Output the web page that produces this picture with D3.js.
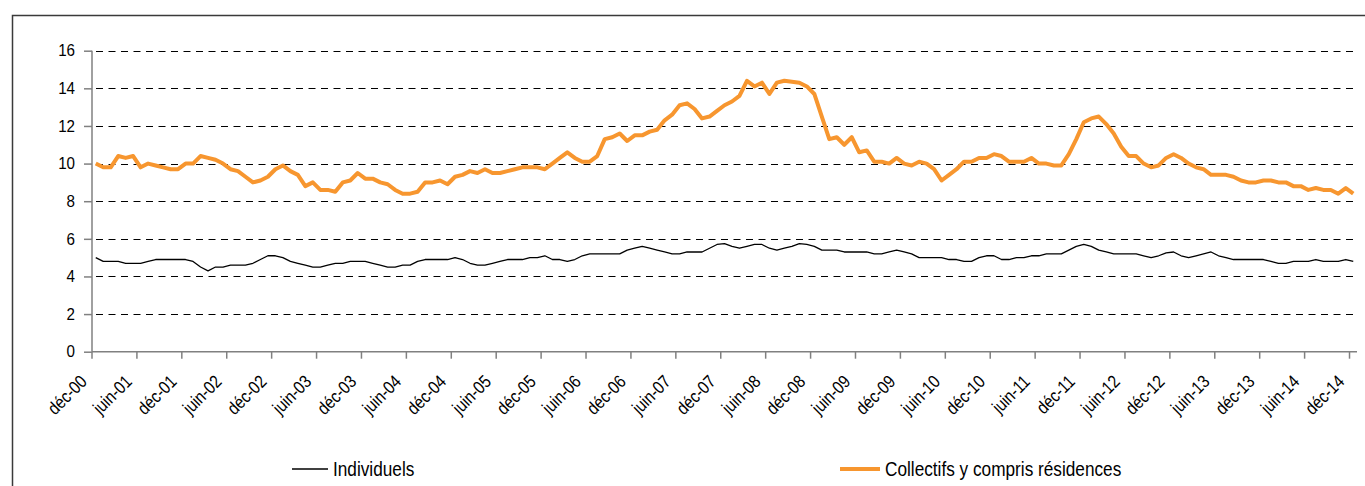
<!DOCTYPE html>
<html><head><meta charset="utf-8">
<script src="https://cdn.jsdelivr.net/npm/d3@7"></script>
<style>
html,body{margin:0;padding:0;background:#fff;}
svg{display:block;}
text{font-family:"Liberation Sans",Arial,sans-serif;fill:#000;}
</style></head>
<body>
<svg id="c" width="1365" height="486"></svg>
<script>
// ---- data ----
const monthNames = ["janv","févr","mars","avr","mai","juin","juil","août","sept","oct","nov","déc"];
const categories = [];
for (let k = 0; k < 169; k++) {
  const m = (11 + k) % 12;
  const yr = 2000 + Math.floor((11 + k) / 12);
  categories.push(monthNames[m] + "-" + String(yr % 100).padStart(2, "0"));
}
const tickLabels = ["déc-00","juin-01","déc-01","juin-02","déc-02","juin-03","déc-03","juin-04","déc-04","juin-05","déc-05","juin-06","déc-06","juin-07","déc-07","juin-08","déc-08","juin-09","déc-09","juin-10","déc-10","juin-11","déc-11","juin-12","déc-12","juin-13","déc-13","juin-14","déc-14"];
const yTicks = [0,2,4,6,8,10,12,14,16];
const seriesNames = ["Individuels","Collectifs y compris résidences"];
const individuels = [
5.0,4.8,4.8,4.8,4.7,4.7,4.7,4.8,4.9,4.9,4.9,4.9,4.9,4.8,4.5,4.3,4.5,4.5,4.6,4.6,
4.6,4.7,4.9,5.1,5.1,5.0,4.8,4.7,4.6,4.5,4.5,4.6,4.7,4.7,4.8,4.8,4.8,4.7,4.6,4.5,
4.5,4.6,4.6,4.8,4.9,4.9,4.9,4.9,5.0,4.9,4.7,4.6,4.6,4.7,4.8,4.9,4.9,4.9,5.0,5.0,
5.1,4.9,4.9,4.8,4.9,5.1,5.2,5.2,5.2,5.2,5.2,5.4,5.5,5.6,5.5,5.4,5.3,5.2,5.2,5.3,
5.3,5.3,5.5,5.7,5.75,5.6,5.5,5.6,5.7,5.7,5.5,5.4,5.5,5.6,5.75,5.7,5.6,5.4,5.4,5.4,
5.3,5.3,5.3,5.3,5.2,5.2,5.3,5.4,5.3,5.2,5.0,5.0,5.0,5.0,4.9,4.9,4.8,4.8,5.0,5.1,
5.1,4.9,4.9,5.0,5.0,5.1,5.1,5.2,5.2,5.2,5.4,5.6,5.7,5.6,5.4,5.3,5.2,5.2,5.2,5.2,
5.1,5.0,5.1,5.25,5.3,5.1,5.0,5.1,5.2,5.3,5.1,5.0,4.9,4.9,4.9,4.9,4.9,4.8,4.7,4.7,
4.8,4.8,4.8,4.9,4.8,4.8,4.8,4.9,4.8];
const collectifs = [
10.0,9.8,9.8,10.4,10.3,10.4,9.8,10.0,9.9,9.8,9.7,9.7,10.0,10.0,10.4,10.3,10.2,10.0,9.7,9.6,
9.3,9.0,9.1,9.3,9.7,9.9,9.6,9.4,8.8,9.0,8.6,8.6,8.5,9.0,9.1,9.5,9.2,9.2,9.0,8.9,
8.6,8.4,8.4,8.5,9.0,9.0,9.1,8.9,9.3,9.4,9.6,9.5,9.7,9.5,9.5,9.6,9.7,9.8,9.8,9.8,
9.7,10.0,10.3,10.6,10.3,10.1,10.1,10.4,11.3,11.4,11.6,11.2,11.5,11.5,11.7,11.8,12.3,12.6,13.1,13.2,
12.9,12.4,12.5,12.8,13.1,13.3,13.6,14.4,14.1,14.3,13.7,14.3,14.4,14.35,14.3,14.1,13.7,12.5,11.3,11.4,
11.0,11.4,10.6,10.7,10.1,10.1,10.0,10.3,10.0,9.9,10.1,10.0,9.7,9.1,9.4,9.7,10.1,10.1,10.3,10.3,
10.5,10.4,10.1,10.1,10.1,10.3,10.0,10.0,9.9,9.9,10.5,11.3,12.2,12.4,12.5,12.1,11.6,10.9,10.4,10.4,
10.0,9.8,9.9,10.3,10.5,10.3,10.0,9.8,9.7,9.4,9.4,9.4,9.3,9.1,9.0,9.0,9.1,9.1,9.0,9.0,
8.8,8.8,8.6,8.7,8.6,8.6,8.4,8.7,8.4];

// ---- layout ----
const svg = d3.select("#c");
const plotL = 92, plotR = 1357, plotT = 50.7, plotB = 351.7;
const narrow = 0.84;

// frame (right/bottom edges fall outside the picture)
svg.append("rect").attr("x",12.5).attr("y",15.5).attr("width",1400).attr("height",520)
  .attr("fill","none").attr("stroke","#3a3a3a").attr("stroke-width",1.5);

const x = d3.scaleBand().domain(categories).range([plotL, plotR]).padding(0);
const xc = c => x(c) + x.bandwidth()/2;
const y = d3.scaleLinear().domain([0,16]).range([plotB, plotT]);

// gridlines
svg.append("g").selectAll("line").data(yTicks.filter(d => d > 0)).join("line")
  .attr("x1", plotL).attr("x2", plotR)
  .attr("y1", d => Math.round(y(d)) + 0.5).attr("y2", d => Math.round(y(d)) + 0.5)
  .attr("stroke","#000").attr("stroke-width",1).attr("stroke-dasharray","7,5.5")
  .attr("stroke-dashoffset", -4);

// y axis
const yAxis = svg.append("g").attr("transform",`translate(${plotL},0)`)
  .call(d3.axisLeft(y).tickValues(yTicks).tickSize(8).tickPadding(9).tickFormat(d3.format("d")));
yAxis.select(".domain").attr("stroke","#808080").attr("stroke-width",1.5).attr("d",`M0,${plotT}V${plotB}`);
yAxis.selectAll(".tick line").attr("stroke","#808080").attr("stroke-width",1.5);
yAxis.selectAll(".tick text").attr("font-size",16.5).attr("font-family",'"Liberation Sans",Arial,sans-serif')
  .attr("transform",`translate(-17,0) scale(0.92,1) translate(17,0)`);

// x axis
const tickCats = categories.filter((c,i) => i % 6 === 0);
const xAxis = svg.append("g").attr("transform",`translate(0,${plotB})`)
  .call(d3.axisBottom(x).tickValues(tickCats).tickSize(7).tickFormat((c,i) => tickLabels[i]));
xAxis.select(".domain").attr("stroke","#808080").attr("stroke-width",1.5).attr("d",`M${plotL},0H${plotR}`);
xAxis.selectAll(".tick").attr("transform", c => `translate(${x(c)},0)`);
xAxis.selectAll(".tick line").attr("stroke","#808080").attr("stroke-width",1.5);
xAxis.selectAll(".tick text")
  .attr("font-size",18).attr("font-family",'"Liberation Sans",Arial,sans-serif')
  .attr("text-anchor","end").attr("dy",null).attr("y",null)
  .attr("transform",`translate(-4,31) rotate(-45) scale(0.85,1)`);

// lines
const line = d3.line().x((d,i) => xc(categories[i])).y(d => y(d));
svg.append("path").datum(individuels).attr("d", line)
  .attr("fill","none").attr("stroke","#000").attr("stroke-width",1.3).attr("stroke-linejoin","round");
svg.append("path").datum(collectifs).attr("d", line)
  .attr("fill","none").attr("stroke","#F7962F").attr("stroke-width",4).attr("stroke-linejoin","round");

// legend
const legend = [
  {name: seriesNames[0], color:"#000", w:1.3, x1:292, x2:328, tx:333},
  {name: seriesNames[1], color:"#F7962F", w:4, x1:840, x2:880, tx:885}
];
const lg = svg.append("g");
legend.forEach(l => {
  lg.append("line").attr("x1",l.x1).attr("x2",l.x2).attr("y1",469).attr("y2",469)
    .attr("stroke",l.color).attr("stroke-width",l.w);
  lg.append("text").attr("transform",`translate(${l.tx},476) scale(${narrow},1)`)
    .attr("font-size",20.5).text(l.name);
});
</script>
</body></html>
